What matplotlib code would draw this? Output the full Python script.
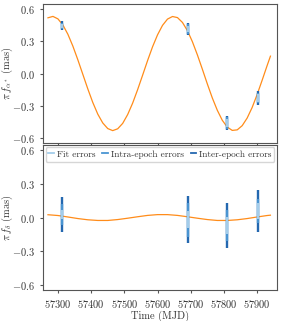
import matplotlib
matplotlib.use("Agg")
import matplotlib.pyplot as plt
from matplotlib.lines import Line2D

# model curves
t_ra = [57270, 57285, 57300, 57315, 57330, 57345, 57360, 57375, 57390, 57405,
        57420, 57435, 57450, 57465, 57480, 57495, 57510, 57525, 57540, 57555,
        57570, 57585, 57600, 57615, 57630, 57645, 57660, 57675, 57690, 57705,
        57720, 57735, 57750, 57765, 57780, 57795, 57810, 57825, 57840, 57855,
        57870, 57885, 57900, 57915, 57930, 57940]
f_ra = [0.517, 0.530, 0.507, 0.450, 0.364, 0.254, 0.127, -0.008, -0.143, -0.269,
        -0.377, -0.459, -0.511, -0.530, -0.513, -0.463, -0.381, -0.275, -0.150, -0.016,
        0.120, 0.248, 0.359, 0.447, 0.505, 0.529, 0.519, 0.474, 0.398, 0.295,
        0.173, 0.040, -0.097, -0.227, -0.341, -0.434, -0.497, -0.528, -0.523, -0.484,
        -0.413, -0.315, -0.195, -0.063, 0.073, 0.161]

t_dec = [57270, 57300, 57330, 57360, 57390, 57420, 57450, 57480, 57510, 57540,
         57570, 57600, 57630, 57660, 57690, 57720, 57750, 57780, 57810, 57840,
         57870, 57900, 57930, 57940]
f_dec = [0.025, 0.018, 0.005, -0.009, -0.020, -0.026, -0.026, -0.018, -0.006, 0.007,
         0.019, 0.026, 0.026, 0.019, 0.007, -0.006, -0.018, -0.026, -0.026, -0.020,
         -0.009, 0.005, 0.018, 0.021]

# epochs and errors
epochs = [57312, 57693, 57810, 57903]
ra_val = [0.443, 0.413, -0.459, -0.228]
ra_fit = [0.020, 0.030, 0.040, 0.035]
ra_intra = [0.030, 0.045, 0.055, 0.050]
ra_inter = [0.043, 0.057, 0.065, 0.065]

dec_val = [0.027, -0.021, -0.073, 0.059]
dec_fit = [0.040, 0.076, 0.076, 0.069]
dec_intra = [0.090, 0.150, 0.140, 0.107]
dec_inter = [0.160, 0.210, 0.200, 0.186]

plt.rcParams.update({
    "font.family": "serif",
    "font.serif": ["cmr10"],
    "mathtext.fontset": "cm",
    "axes.formatter.use_mathtext": True,
    "font.size": 7.5,
    "axes.edgecolor": "#555555",
    "xtick.color": "#555555",
    "ytick.color": "#555555",
    "xtick.labelcolor": "#333333",
    "ytick.labelcolor": "#333333",
    "xtick.major.size": 2.5,
    "ytick.major.size": 2.5,
})

c_line = "#ff8c1a"
c_inter = "#2468b0"
c_intra = "#4a95d2"
c_fit = "#a3cdea"

fig = plt.figure(figsize=(2.81, 3.21), dpi=100)
ax1 = fig.add_axes([0.153, 0.5545, 0.833, 0.433])
ax2 = fig.add_axes([0.153, 0.0966, 0.833, 0.4514])

for ax, t, f, val, fit, intra, inter in [
        (ax1, t_ra, f_ra, ra_val, ra_fit, ra_intra, ra_inter),
        (ax2, t_dec, f_dec, dec_val, dec_fit, dec_intra, dec_inter)]:
    ax.plot(t, f, color=c_line, lw=0.9, zorder=1)
    ax.errorbar(epochs, val, yerr=inter, fmt="none", ecolor=c_inter, elinewidth=1.7,
                capsize=0, zorder=2)
    ax.errorbar(epochs, val, yerr=intra, fmt="none", ecolor=c_intra, elinewidth=1.7,
                capsize=0, zorder=3)
    ax.errorbar(epochs, val, yerr=fit, fmt="none", ecolor=c_fit, elinewidth=1.7,
                capsize=0, zorder=4)
    ax.set_xlim(57255, 57960)
    ax.set_ylim(-0.645, 0.645)
    ax.set_yticks([-0.6, -0.3, 0.0, 0.3, 0.6])
    ax.set_xticks([57300, 57400, 57500, 57600, 57700, 57800, 57900])
    ax.ticklabel_format(axis="x", useOffset=False)
    ax.yaxis.set_label_coords(-0.118, 0.5)

ax1.set_xticklabels([])
ax1.set_ylabel(r"$\pi\, f_{\alpha^*}$ (mas)", color="#333333")
ax2.set_ylabel(r"$\pi\, f_{\delta}$ (mas)", color="#333333")
ax2.set_xlabel("Time (MJD)", color="#333333", labelpad=0)

handles = [Line2D([], [], color=c, lw=1.3) for c in (c_fit, c_intra, c_inter)]
labels = ["Fit errors", "Intra-epoch errors", "Inter-epoch errors"]
ax2.legend(handles, labels, loc="upper center", ncol=3, fontsize=6.7,
           handlelength=0.6, handletextpad=0.3, columnspacing=0.75,
           borderpad=0.3, borderaxespad=0.25, labelcolor="#333333")

fig.savefig("out.png", dpi=100)
